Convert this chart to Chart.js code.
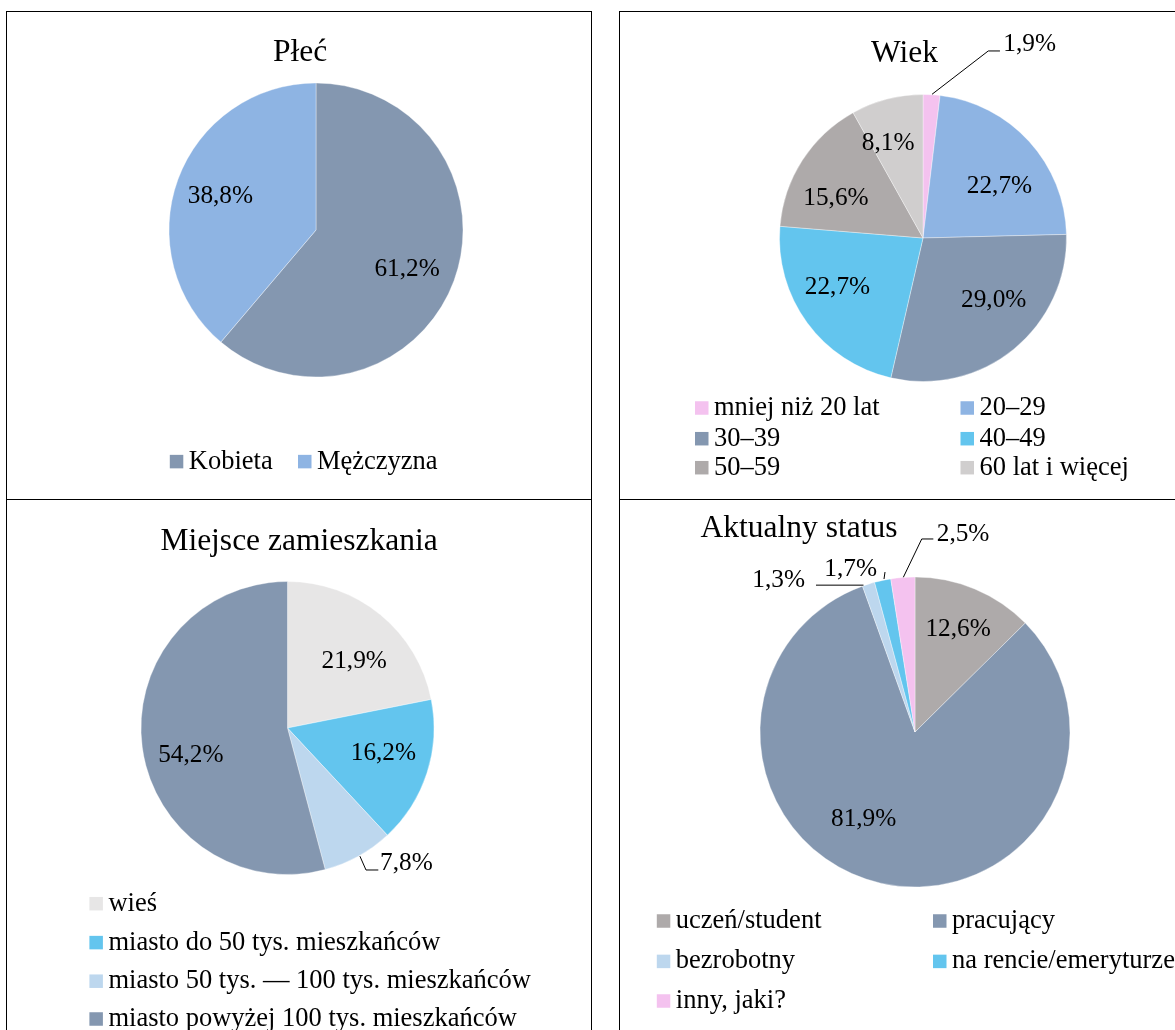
<!DOCTYPE html>
<html><head><meta charset="utf-8">
<script src="https://cdn.jsdelivr.net/npm/chart.js@4.4.1/dist/chart.umd.min.js"></script>
<style>
html,body{margin:0;padding:0;background:#fff;width:1175px;height:1030px;overflow:hidden;position:relative;}
.panel{position:absolute;border:1.5px solid #000;box-sizing:border-box;}
canvas{position:absolute;}
</style></head><body>
<div class="panel" style="left:6px;top:11px;width:586px;height:489px"></div>
<div class="panel" style="left:619px;top:11px;width:600px;height:489px"></div>
<div class="panel" style="left:6px;top:498.5px;width:586px;height:600px"></div>
<div class="panel" style="left:619px;top:498.5px;width:600px;height:600px"></div>
<canvas id="c1" width="584" height="487" style="left:7px;top:12px;width:584px;height:487px"></canvas>
<canvas id="c2" width="555" height="487" style="left:620px;top:12px;width:555px;height:487px"></canvas>
<canvas id="c3" width="584" height="531" style="left:7px;top:499px;width:584px;height:531px"></canvas>
<canvas id="c4" width="555" height="531" style="left:620px;top:499px;width:555px;height:531px"></canvas>
<script>
// ---- data ----
const plecTitle = 'Płeć';
const plecLabels = ['Kobieta', 'Mężczyzna'];
const plecValues = [61.2, 38.8];

const wiekTitle = 'Wiek';
const wiekLabels = ['mniej niż 20 lat', '20–29', '30–39', '40–49', '50–59', '60 lat i więcej'];
const wiekValues = [1.9, 22.7, 29.0, 22.7, 15.6, 8.1];

const miejsceTitle = 'Miejsce zamieszkania';
const miejsceLabels = ['wieś', 'miasto do 50 tys. mieszkańców', 'miasto 50 tys. — 100 tys. mieszkańców', 'miasto powyżej 100 tys. mieszkańców'];
const miejsceValues = [21.9, 16.2, 7.8, 54.2];

const statusTitle = 'Aktualny status';
const statusLabels = ['uczeń/student', 'pracujący', 'bezrobotny', 'na rencie/emeryturze', 'inny, jaki?'];
const statusValues = [12.6, 81.9, 1.3, 1.7, 2.5];

// ---- styles ----
const cBlueGray = '#8497B0', cLightBlue = '#8EB4E3', cCyan = '#63C5EE', cPink = '#F4C2EF',
      cGray = '#AEAAAA', cLightGray = '#D0CECE', cVeryLight = '#E7E6E6', cPale = '#BDD7EE';
const plecColors = [cBlueGray, cLightBlue];
const wiekColors = [cPink, cLightBlue, cBlueGray, cCyan, cGray, cLightGray];
const miejsceColors = [cVeryLight, cCyan, cPale, cBlueGray];
const statusColors = [cGray, cBlueGray, cPale, cCyan, cPink];

const FONT = '"Liberation Serif", "Times New Roman", serif';
function fmt(v){ return v.toFixed(1).replace('.', ',') + '%'; }

const decor = {
  id: 'decor',
  afterDraw(chart, args, o) {
    const ctx = chart.ctx;
    ctx.save();
    ctx.fillStyle = '#000';
    ctx.font = o.titleSize + 'px ' + FONT;
    ctx.textAlign = 'center'; ctx.textBaseline = 'alphabetic';
    ctx.fillText(o.title.text, o.title.x, o.title.y);

    const meta = chart.getDatasetMeta(0);
    const ds = chart.data.datasets[0];
    ctx.font = o.labelSize + 'px ' + FONT;
    ctx.textBaseline = 'middle';
    meta.data.forEach((arc, i) => {
      const p = arc.getProps(['x','y','startAngle','endAngle','outerRadius'], true);
      const mid = (p.startAngle + p.endAngle) / 2;
      const text = fmt(ds.data[i]);
      const out = o.outside[i];
      ctx.fillStyle = '#000';
      if (out) {
        const ex = p.x + Math.cos(mid) * p.outerRadius, ey = p.y + Math.sin(mid) * p.outerRadius;
        ctx.beginPath();
        ctx.strokeStyle = '#000'; ctx.lineWidth = 1;
        out.pts.forEach((q, k) => { const X = ex + q[0], Y = ey + q[1]; if (k) ctx.lineTo(X, Y); else ctx.moveTo(X, Y); });
        ctx.stroke();
        ctx.textAlign = out.align;
        ctx.fillText(text, ex + out.text[0], ey + out.text[1]);
      } else {
        const d = p.outerRadius * o.labelRadius;
        const n = o.nudges[i] || [0, 0];
        ctx.textAlign = 'center';
        ctx.fillText(text, p.x + Math.cos(mid) * d + n[0], p.y + Math.sin(mid) * d + n[1]);
      }
    });

    const L = o.legend;
    ctx.font = o.legendSize + 'px ' + FONT;
    ctx.textAlign = 'left'; ctx.textBaseline = 'middle';
    chart.data.labels.forEach((lab, i) => {
      const c = i % L.cols.length, r = Math.floor(i / L.cols.length);
      const x = L.cols[c], y = L.rows[r];
      ctx.fillStyle = ds.backgroundColor[i];
      ctx.fillRect(x, y - L.box / 2, L.box, L.box);
      ctx.fillStyle = '#000';
      ctx.fillText(lab, x + L.gap, y);
    });
    ctx.restore();
  }
};

function makeChart(id, labels, values, colors, geo, decorOpts) {
  const {cx, cy, r, W, H} = geo;
  return new Chart(document.getElementById(id), {
    type: 'pie',
    data: { labels: labels, datasets: [{ data: values, backgroundColor: colors,
      borderColor: 'rgba(255,255,255,0.6)', borderWidth: 0.6, radius: r }] },
    options: {
      responsive: false, animation: false, devicePixelRatio: 1, radius: r, events: [],
      layout: { padding: { left: cx - r, right: W - cx - r, top: cy - r, bottom: H - cy - r } },
      plugins: { legend: { display: false }, tooltip: { enabled: false }, title: { display: false },
        decor: Object.assign({ titleSize: 31.5, labelSize: 25.3, legendSize: 26.5, labelRadius: 0.66 }, decorOpts) }
    },
    plugins: [decor]
  });
}

makeChart('c1', plecLabels, plecValues, plecColors, {cx: 309, cy: 218, r: 147, W: 584, H: 487}, {
  title: {text: plecTitle, x: 293, y: 49},
  nudges: [[0, 5.6], [-4.5, 0]],
  outside: {},
  legend: {cols: [162.8, 291], rows: [449.6], box: 13.5, gap: 19}
});

makeChart('c2', wiekLabels, wiekValues, wiekColors, {cx: 303, cy: 226, r: 143.5, W: 555, H: 487}, {
  title: {text: wiekTitle, x: 284.5, y: 49.7},
  nudges: [null, [6.4, 12.4], [10.8, -10.9], [-9.1, -6.7], [-7.4, 11.9], [-11, -2.7]],
  outside: {0: {pts: [[0.5, -0.5], [56.7, -43.8], [68.4, -43.8]], text: [71.7, -50.8], align: 'left'}},
  legend: {cols: [75, 340.5], rows: [396, 426.7, 455.7], box: 13.5, gap: 19}
});

makeChart('c3', miejsceLabels, miejsceValues, miejsceColors, {cx: 280.5, cy: 229, r: 146.5, W: 584, H: 531}, {
  title: {text: miejsceTitle, x: 292, y: 51},
  nudges: [[5.4, 8.4], [3.9, -4.1], null, [-0.8, 15.1]],
  outside: {2: {pts: [[1.5, 0], [7.6, 13.8], [19.9, 13.8]], text: [21.6, 6.8], align: 'left'}},
  legend: {cols: [82.4], rows: [404.7, 443.6, 482.2, 520], box: 13.5, gap: 19}
});

makeChart('c4', statusLabels, statusValues, statusColors, {cx: 295, cy: 233, r: 155, W: 555, H: 531}, {
  title: {text: statusTitle, x: 179, y: 38},
  nudges: [[3.7, -7.8], [-28.7, -12.1]],
  outside: {
    2: {pts: [[-5, 1], [-52.5, 1]], text: [-63.5, -4], align: 'right'},
    3: {pts: [[1.4, -1.4], [2.4, -8.4]], text: [-5.6, -11.4], align: 'right'},
    4: {pts: [[0.5, -0.2], [18.9, -38.5], [30.5, -38.5]], text: [33.9, -43.5], align: 'left'}
  },
  legend: {cols: [36.8, 313], rows: [422, 462.4, 502], box: 13.5, gap: 19}
});
</script>
</body></html>
